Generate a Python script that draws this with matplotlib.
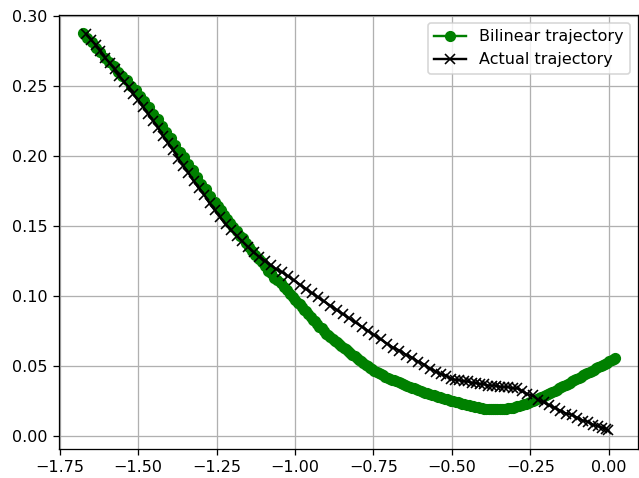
#!/usr/bin/python

import numpy as np
import matplotlib
matplotlib.use('Agg')
import matplotlib.pyplot as plt

#bilinear trajectory (points get denser further along)
bilinear_x = [-1.676, -1.662, -1.648, -1.634, -1.620, -1.606,
              -1.592, -1.578, -1.564, -1.550, -1.536, -1.522, -1.508,
              -1.494, -1.480, -1.466, -1.452, -1.438, -1.424, -1.410,
              -1.396, -1.382, -1.368, -1.354, -1.340, -1.326, -1.312,
              -1.298, -1.284, -1.270, -1.256,
              -1.246, -1.236, -1.226, -1.216, -1.206, -1.196, -1.186, -1.176, -1.166, -1.156,
              -1.146, -1.136, -1.126, -1.116, -1.106, -1.096, -1.086, -1.076, -1.066, -1.056,
              -1.046, -1.036, -1.026, -1.016, -1.006,
              -0.999, -0.992, -0.985, -0.978, -0.971, -0.964, -0.957, -0.950, -0.943, -0.936,
              -0.929, -0.922, -0.915, -0.908, -0.901,
              -0.894, -0.887, -0.880, -0.873, -0.866, -0.859, -0.852, -0.845, -0.838, -0.831,
              -0.824, -0.817, -0.810, -0.803,
              -0.796, -0.789, -0.782, -0.775, -0.768, -0.761, -0.754,
              -0.747, -0.740, -0.733, -0.726, -0.719, -0.712, -0.705,
              -0.698, -0.691, -0.684, -0.677, -0.670, -0.663, -0.656, -0.649, -0.642, -0.635,
              -0.628, -0.621, -0.614, -0.607,
              -0.600, -0.593, -0.586, -0.579, -0.572, -0.565, -0.558, -0.551, -0.544, -0.537,
              -0.530, -0.523, -0.516, -0.509, -0.502,
              -0.495, -0.488, -0.481, -0.474, -0.467, -0.460, -0.453,
              -0.446, -0.439, -0.432, -0.425, -0.418, -0.411, -0.404,
              -0.397, -0.390, -0.383, -0.376, -0.369, -0.362, -0.355,
              -0.348, -0.341, -0.334, -0.327, -0.320, -0.313, -0.306,
              -0.299, -0.292, -0.285, -0.278, -0.271, -0.264, -0.257, -0.250,
              -0.243, -0.236, -0.229, -0.222, -0.215, -0.208, -0.201,
              -0.194, -0.187, -0.180, -0.173, -0.166, -0.159, -0.152,
              -0.145, -0.138, -0.131, -0.124, -0.117, -0.110, -0.103,
              -0.096, -0.089, -0.082, -0.075, -0.068, -0.061, -0.054,
              -0.047, -0.040, -0.033, -0.026, -0.019, -0.012, -0.005,
              0.002, 0.009, 0.016, 0.020]
bilinear_y = [0.2875, 0.284, 0.281, 0.277, 0.274, 0.270,
              0.267, 0.264, 0.260, 0.257, 0.254, 0.250, 0.247,
              0.243, 0.239, 0.235, 0.230, 0.226, 0.221, 0.217,
              0.213, 0.208, 0.203, 0.199, 0.194, 0.190, 0.185,
              0.180, 0.176, 0.171, 0.167,
              0.164, 0.161, 0.158, 0.155, 0.152, 0.149, 0.146, 0.143, 0.141, 0.138,
              0.135, 0.132, 0.129, 0.126, 0.124, 0.121, 0.118, 0.116, 0.113, 0.111,
              0.109, 0.106, 0.104, 0.101, 0.099,
              0.097, 0.095, 0.094, 0.092, 0.090, 0.089, 0.087, 0.085, 0.083, 0.082,
              0.080, 0.078, 0.077, 0.075, 0.073,
              0.072, 0.071, 0.069, 0.068, 0.067, 0.066, 0.064, 0.063, 0.062, 0.061,
              0.059, 0.058, 0.057, 0.056,
              0.0544, 0.0533, 0.0522, 0.051, 0.050, 0.0488, 0.0476,
              0.0466, 0.0458, 0.045, 0.0441, 0.0433, 0.0424, 0.0416,
              0.0409, 0.0402, 0.0396, 0.039, 0.0384, 0.0377, 0.0371, 0.0365, 0.0358, 0.0352,
              0.0346, 0.0339, 0.0333, 0.0326,
              0.032, 0.0315, 0.031, 0.0305, 0.030, 0.0296, 0.0291, 0.0286, 0.0281, 0.0276,
              0.0271, 0.0266, 0.0261, 0.0256, 0.0251,
              0.0247, 0.0243, 0.0239, 0.0234, 0.023, 0.0226, 0.0222,
              0.0218, 0.0214, 0.0211, 0.0207, 0.0204, 0.0200, 0.0197,
              0.0194, 0.0193, 0.0192, 0.0191, 0.019, 0.019, 0.019,
              0.019, 0.0192, 0.0194, 0.0196, 0.0198, 0.0201, 0.0203,
              0.0206, 0.0211, 0.0215, 0.022, 0.0225, 0.023, 0.0235, 0.024,
              0.0247, 0.0254, 0.0261, 0.0268, 0.0275, 0.0282, 0.0289,
              0.0297, 0.0306, 0.0314, 0.0322, 0.0331, 0.0339, 0.0348,
              0.0356, 0.0364, 0.0373, 0.0381, 0.039, 0.0398, 0.0406,
              0.0415, 0.0423, 0.0432, 0.044, 0.0448, 0.0457, 0.0465,
              0.0474, 0.0482, 0.049, 0.0499, 0.0507, 0.0516, 0.0524,
              0.0533, 0.0541, 0.055, 0.0555]

#actual trajectory
actual_x = [-1.665, -1.650, -1.635, -1.620, -1.605, -1.590, -1.575, -1.560, -1.545, -1.530,
            -1.515, -1.500, -1.484, -1.468, -1.452, -1.436, -1.420, -1.404, -1.388, -1.372,
            -1.356, -1.340, -1.323, -1.306, -1.289, -1.272, -1.255, -1.238, -1.221, -1.204,
            -1.186, -1.168, -1.150, -1.132, -1.114, -1.096, -1.078, -1.060, -1.041, -1.022,
            -1.003, -0.984, -0.965, -0.946, -0.927, -0.907, -0.887, -0.867, -0.847, -0.827,
            -0.807, -0.787, -0.767, -0.747, -0.727, -0.707, -0.687, -0.667, -0.647, -0.627,
            -0.607, -0.588, -0.569, -0.551, -0.534, -0.518, -0.503, -0.489, -0.476, -0.463,
            -0.450, -0.437, -0.424, -0.411, -0.398, -0.385, -0.372, -0.359, -0.346, -0.333,
            -0.320, -0.306, -0.291, -0.276, -0.260, -0.243, -0.226, -0.208, -0.190, -0.172,
            -0.154, -0.136, -0.118, -0.100, -0.083, -0.066, -0.050, -0.035, -0.022, -0.010, -0.002]
actual_y = [0.287, 0.283, 0.279, 0.275, 0.270, 0.266, 0.262, 0.257, 0.253, 0.249,
            0.244, 0.240, 0.235, 0.230, 0.225, 0.220, 0.214, 0.209, 0.204, 0.198,
            0.193, 0.188, 0.182, 0.177, 0.172, 0.166, 0.161, 0.156, 0.151, 0.147,
            0.143, 0.139, 0.135, 0.131, 0.128, 0.125, 0.122, 0.119, 0.117, 0.114,
            0.111, 0.108, 0.105, 0.102, 0.099, 0.096, 0.093, 0.090, 0.087, 0.084,
            0.081, 0.078, 0.075, 0.072, 0.069, 0.066, 0.063, 0.061, 0.058, 0.056,
            0.053, 0.051, 0.048, 0.046, 0.044, 0.043, 0.041, 0.040, 0.040, 0.039,
            0.039, 0.038, 0.038, 0.037, 0.037, 0.036, 0.036, 0.036, 0.035, 0.035,
            0.035, 0.034, 0.034, 0.032, 0.030, 0.029, 0.026, 0.024, 0.022, 0.020,
            0.018, 0.016, 0.015, 0.013, 0.011, 0.010, 0.008, 0.007, 0.006, 0.005, 0.004]

#the reference looks like it was drawn a bit larger than 100 dpi, so scale everything up
dpi = 115
fig = plt.figure(figsize=(639/dpi, 478/dpi), dpi=dpi)
ax = fig.add_subplot(111)
fig.subplots_adjust(left=59/639, right=638/639, bottom=1-449/478, top=1-15/478)

ax.plot(bilinear_x, bilinear_y, 'go-', label='Bilinear trajectory')
ax.plot(actual_x, actual_y, 'kx-', label='Actual trajectory')
ax.set_xlim(-1.752, 0.093)
ax.set_ylim(-0.0093, 0.3005)
ax.grid(True)
ax.legend()

plt.savefig('out.png', dpi=dpi)
